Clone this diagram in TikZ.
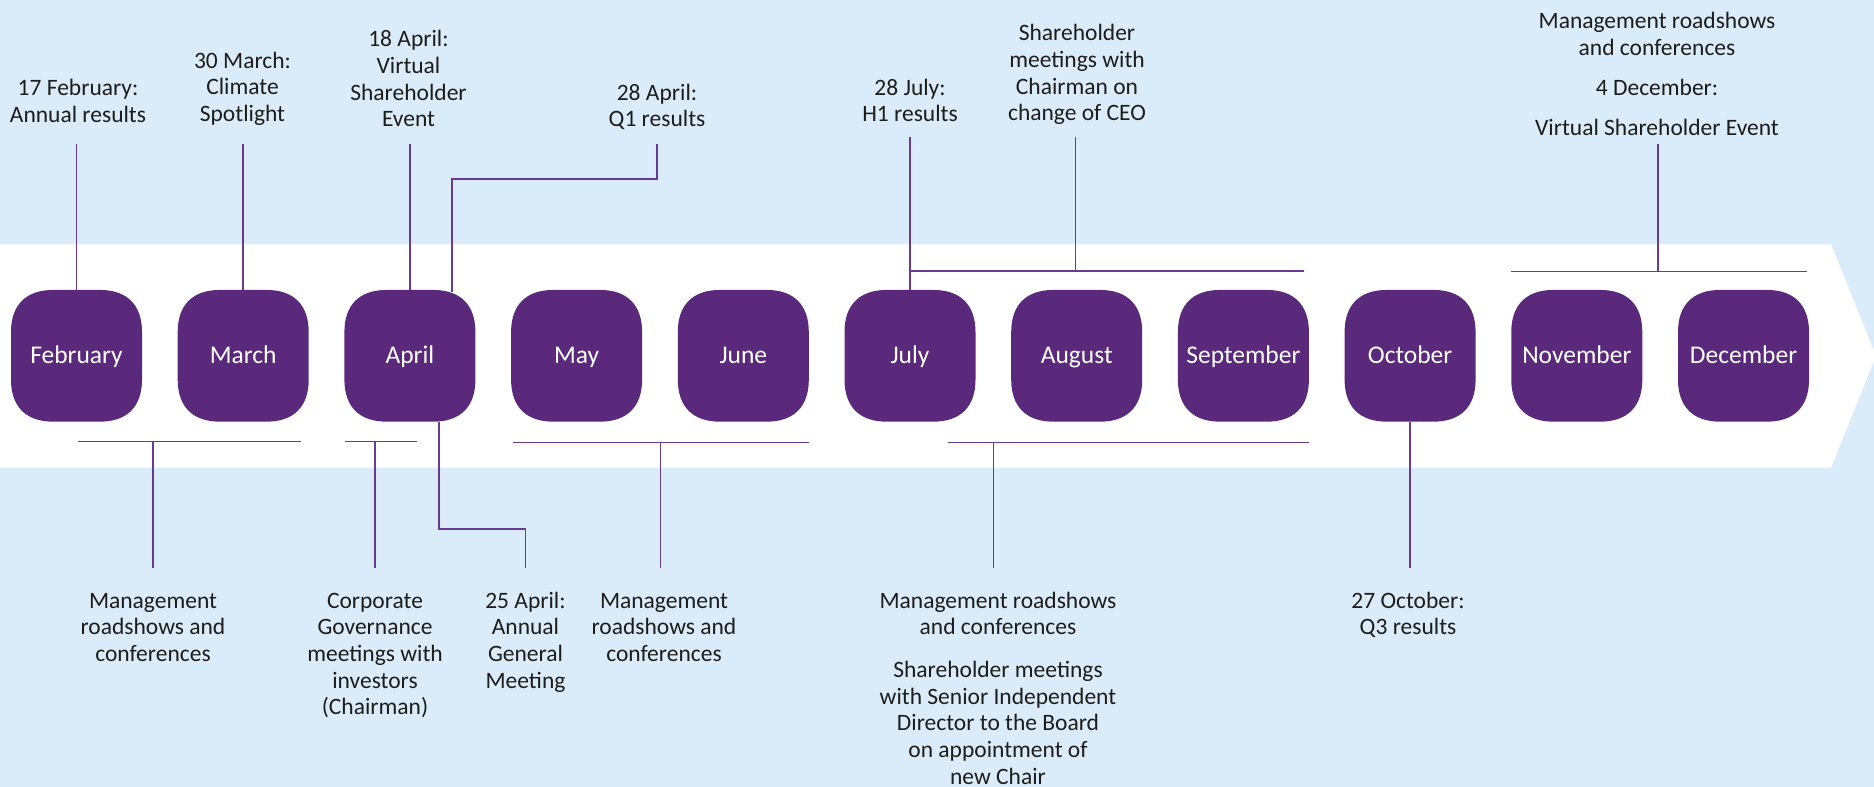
\documentclass[tikz,border=0pt]{standalone}
\usepackage{fontspec}
\setmainfont{Carlito}
\definecolor{bgc}{HTML}{DAEBF9}
\definecolor{boxc}{HTML}{5B297B}
\definecolor{linec}{HTML}{683A93}
\definecolor{txt}{HTML}{1D1D1B}
\newcommand{\monthbg}[1]{\fill[boxc, shift={(#1,355.8)}]
  (-23.5,-65.85) -- (23.5,-65.85) .. controls (50.5,-65.85) and (65.5,-50.85) .. (65.5,-23.85)
  -- (65.5,23.85) .. controls (65.5,50.85) and (50.5,65.85) .. (23.5,65.85)
  -- (-23.5,65.85) .. controls (-50.5,65.85) and (-65.5,50.85) .. (-65.5,23.85)
  -- (-65.5,-23.85) .. controls (-65.5,-50.85) and (-50.5,-65.85) .. (-23.5,-65.85) -- cycle;}
\begin{document}
\begin{tikzpicture}[x=1pt,y=-1pt,
  month/.style={minimum width=131pt, minimum height=131.7pt,
    inner sep=0pt, text=white, font=\fontsize{25.5}{30}\selectfont, text height=18pt, text depth=3pt},
  note/.style={align=center, inner sep=0pt, anchor=north, text=txt, font=\fontsize{23.5}{26.7}\selectfont},
  conn/.style={draw=linec, line width=1.5pt}]
\useasboundingbox (0,0) rectangle (1874,787);
\fill[bgc] (0,0) rectangle (1874,787);
\fill[white] (0,244.3) -- (1831,244.3) -- (1876,356) -- (1831,467.7) -- (0,467.7) -- cycle;

% month box backgrounds
\foreach \cx in {76.5,243.2,409.9,576.6,743.3,910,1076.7,1243.4,1410.1,1576.8,1743.5} {\monthbg{\cx}}

% month boxes
\node[month] (feb) at (76.5,355.8) {February};
\node[month] (mar) at (243.2,355.8) {March};
\node[month] (apr) at (409.9,355.8) {April};
\node[month] (may) at (576.6,355.8) {May};
\node[month] (jun) at (743.3,355.8) {June};
\node[month] (jul) at (910,355.8) {July};
\node[month] (aug) at (1076.7,355.8) {August};
\node[month] (sep) at (1243.4,355.8) {September};
\node[month] (oct) at (1410.1,355.8) {October};
\node[month] (nov) at (1576.8,355.8) {November};
\node[month] (dec) at (1743.5,355.8) {December};

% top notes
\node[note] (tfeb) at (78,77) {\strut 17 February:\\Annual results};
\node[note] (tmar) at (242.5,49.3) {\strut 30 March:\\Climate\\Spotlight};
\node[note] (tapa) at (408.5,28) {\strut 18 April:\\Virtual\\Shareholder\\Event};
\node[note] (tapb) at (657,81.3) {\strut 28 April:\\Q1 results};
\node[note] (tjul) at (910,76.3) {\strut 28 July:\\H1 results};
\node[note] (taug) at (1077,22) {\strut Shareholder\\meetings with\\Chairman on\\change of CEO};
\node[note] (tdec) at (1657,9.6) {\strut Management roadshows\\and conferences\\[13.3pt]4 December:\\[13.3pt]Virtual Shareholder Event};

% bottom notes
\node[note] (bfm) at (153,589.3) {\strut Management\\roadshows and\\conferences};
\node[note] (bapr) at (375,589.3) {\strut Corporate\\Governance\\meetings with\\investors\\(Chairman)};
\node[note] (bagm) at (525.5,589.3) {\strut 25 April:\\Annual\\General\\Meeting};
\node[note] (bmj) at (664,589.3) {\strut Management\\roadshows and\\conferences};
\node[note] (bjs) at (998,589.3) {\strut Management roadshows\\and conferences\\[16pt]Shareholder meetings\\with Senior Independent\\Director to the Board\\on appointment of\\new Chair};
\node[note] (boct) at (1408,589.3) {\strut 27 October:\\Q3 results};

% top connectors
\coordinate (cfeb) at (76.5,144);
\coordinate (cmar) at (243.2,144);
\coordinate (capa) at (409.9,144);
\coordinate (capb) at (657,144);
\coordinate (cjul) at (910,137);
\coordinate (caug) at (1075.5,137);
\coordinate (caugb) at (1075.5,271);
\coordinate (jsR) at (1303.6,271);
\coordinate (cdec) at (1658,144);
\coordinate (ndL) at (1511,271.7);
\coordinate (ndR) at (1807,271.7);
\draw[conn] (cfeb) -- (feb.north);
\draw[conn] (cmar) -- (mar.north);
\draw[conn] (capa) -- (apr.north);
\draw[conn] (capb) -- (capb |- 0,179) -| ([xshift=42pt,yshift=-2pt]apr.north);
\draw[conn] (cjul) -- (jul.north);
\draw[conn] (jul.north |- jsR) -- (jsR);
\draw[conn] (caug) -- (caugb);
\draw[conn] (ndL) -- (ndR);
\draw[conn] (cdec) -- (cdec |- ndL);

% bottom connectors
\coordinate (fmL) at (78,441.3);
\coordinate (fmR) at (301,441.3);
\coordinate (fmB) at (153,568);
\coordinate (apL) at (345,441.3);
\coordinate (apR) at (417,441.3);
\coordinate (apB) at (375,568);
\coordinate (agB) at (525.5,568);
\coordinate (mjL) at (512.5,442.7);
\coordinate (mjR) at (808.5,442.7);
\coordinate (mjB) at (660.7,568);
\coordinate (jsL) at (947.8,442.7);
\coordinate (jsR2) at (1309,442.7);
\coordinate (jsB) at (993.7,568);
\coordinate (ocB) at (1410.1,568);
\draw[conn] (fmL) -- (fmR);
\draw[conn] (fmB |- fmL) -- (fmB);
\draw[conn] (apL) -- (apR);
\draw[conn] (apB |- apL) -- (apB);
\draw[conn] ([xshift=29.1pt]apr.south) -- ++(0,107.3) -| (agB);
\draw[conn] (mjL) -- (mjR);
\draw[conn] (mjB |- mjL) -- (mjB);
\draw[conn] (jsL) -- (jsR2);
\draw[conn] (jsB |- jsL) -- (jsB);
\draw[conn] (oct.south) -- (ocB);
\end{tikzpicture}
\end{document}
